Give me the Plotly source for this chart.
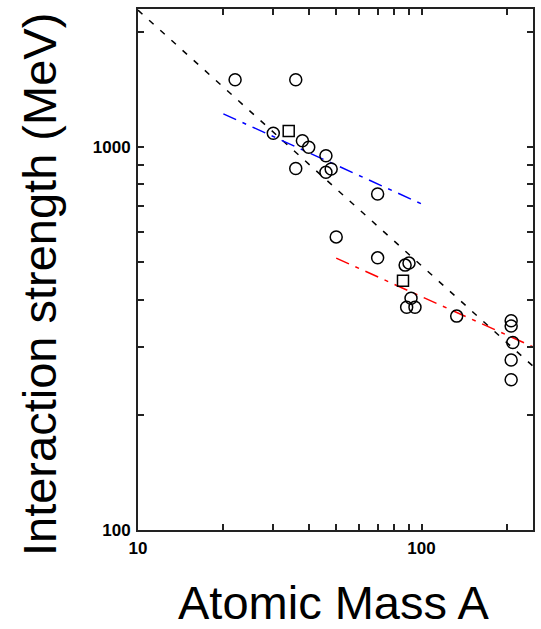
import plotly.graph_objects as go

# Data
circle_A = [22, 36, 30, 38, 40, 46, 36, 46, 48, 70, 50, 70, 87.5, 90.3, 91.8, 88.6, 94.8, 133, 207, 207, 209.8, 207, 207]
circle_E = [1500, 1500, 1088, 1040, 1000, 950, 880, 860, 877, 755, 583, 514, 492, 498, 403, 382, 382, 362, 352, 341, 309, 278, 247]

square_A = [34, 86]
square_E = [1103, 448]

fit_all_A = [10, 247]
fit_all_E = [2280, 268]

fit_light_A = [20, 100]
fit_light_E = [1222, 711]

fit_heavy_A = [50, 247]
fit_heavy_E = [513, 301]

x_tickvals = [10, 20, 30, 40, 50, 60, 70, 80, 90, 100, 200]
x_ticktext = ["10", "", "", "", "", "", "", "", "", "100", ""]
y_tickvals = [100, 200, 300, 400, 500, 600, 700, 800, 900, 1000, 2000]
y_ticktext = ["100", "", "", "", "", "", "", "", "", "1000", ""]

fig = go.Figure()

fig.add_trace(go.Scatter(x=fit_all_A, y=fit_all_E, mode="lines",
                         line=dict(color="black", width=1.5, dash="6px,9px")))
fig.add_trace(go.Scatter(x=fit_light_A, y=fit_light_E, mode="lines",
                         line=dict(color="#0000ff", width=1.5, dash="14px,7px,4px,7px")))
fig.add_trace(go.Scatter(x=fit_heavy_A, y=fit_heavy_E, mode="lines",
                         line=dict(color="#ff0000", width=1.5, dash="14px,7px,4px,7px")))
fig.add_trace(go.Scatter(x=circle_A, y=circle_E, mode="markers",
                         marker=dict(symbol="circle-open", size=12, color="black",
                                     line=dict(width=1.5, color="black"))))
fig.add_trace(go.Scatter(x=square_A, y=square_E, mode="markers",
                         marker=dict(symbol="square-open", size=11, color="black",
                                     line=dict(width=1.5, color="black"))))

axis_common = dict(
    showgrid=False, zeroline=False,
    showline=True, linecolor="#222222", linewidth=2, mirror="allticks",
    ticks="inside", ticklen=6, tickwidth=1.5, tickcolor="#222222",
    tickfont=dict(family="Liberation Sans", size=17, color="black", weight="bold"),
)

fig.update_xaxes(type="log", range=[1, 2.393], tickmode="array",
                 tickvals=x_tickvals, ticktext=x_ticktext, ticklabelstandoff=2,
                 **axis_common)
fig.update_yaxes(type="log", range=[2, 3.361], tickmode="array",
                 tickvals=y_tickvals, ticktext=y_ticktext, ticklabelstandoff=2,
                 **axis_common)

fig.add_annotation(text="Atomic Mass A", xref="paper", yref="paper",
                   x=0.4937, y=-0.1385, xanchor="center", yanchor="middle",
                   showarrow=False,
                   font=dict(family="Liberation Sans", size=47, color="black"))
fig.add_annotation(text="Interaction strength (MeV)", xref="paper", yref="paper",
                   x=-0.2506, y=0.4702, xanchor="center", yanchor="middle",
                   textangle=-90, showarrow=False,
                   font=dict(family="Liberation Sans", size=47, color="black"))

fig.update_layout(
    width=541, height=629,
    margin=dict(l=138, r=6, t=9, b=99),
    paper_bgcolor="white", plot_bgcolor="white",
    showlegend=False,
)

fig.write_html("out.html")
